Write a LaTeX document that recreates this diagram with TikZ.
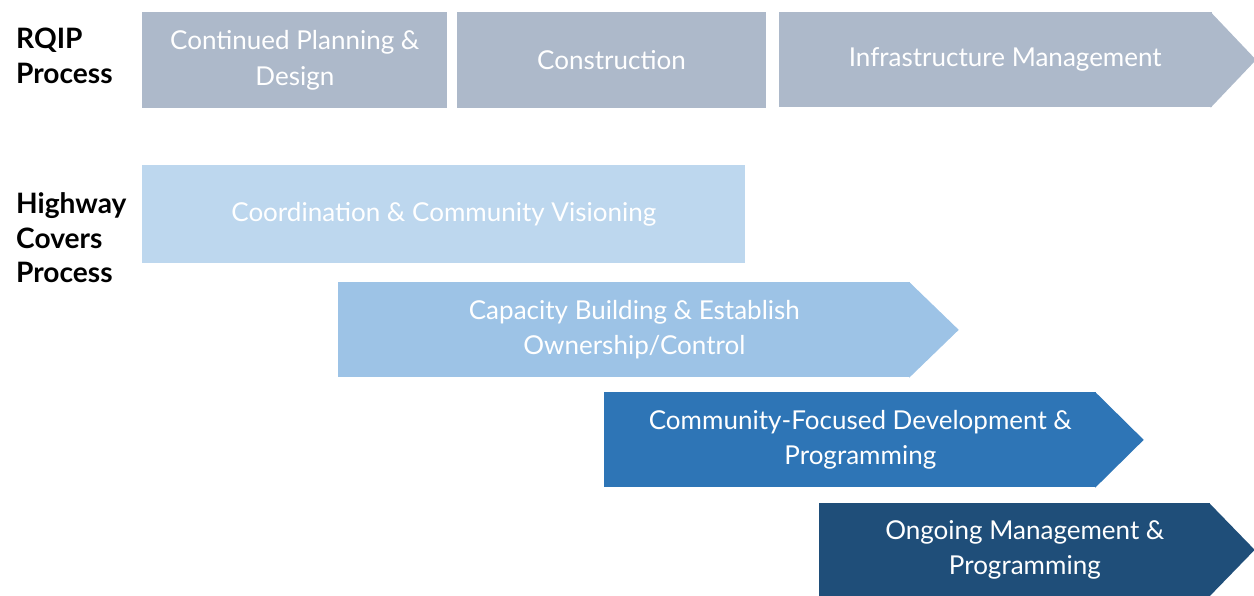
\documentclass[tikz,border=0pt]{standalone}
\usepackage{fontspec}
\setmainfont{Lato}
\usetikzlibrary{positioning, calc}
\definecolor{rqipGray}{RGB}{173, 185, 202}
\definecolor{coverLight}{RGB}{189, 215, 238}
\definecolor{coverMid}{RGB}{157, 195, 230}
\definecolor{coverBlue}{RGB}{46, 117, 182}
\definecolor{coverDark}{RGB}{31, 78, 121}
\begin{document}
\begin{tikzpicture}[
        stage/.style={rectangle, anchor=north west, inner sep=0pt, minimum height=1.92cm, align=center, text=white, font=\fontsize{14.8}{20}\selectfont},
        rowlabel/.style={anchor=west, align=left, font=\fontsize{16}{19.6}\selectfont\bfseries}
    ]
        \useasboundingbox (0,0) rectangle (25.08,-11.92);

        % RQIP row
        \node[rowlabel] (rqip) at (0.20,-1.12) {RQIP\\Process};
        \node[stage, fill=rqipGray, minimum width=6.10cm] (plan) at (2.84,-0.24) {Continued Planning \&\\Design};
        \node[stage, fill=rqipGray, minimum width=6.18cm, right=0.18cm of plan.north east, anchor=north west] (build) {Construction};
        \node[stage, fill=rqipGray, minimum width=8.66cm, minimum height=1.90cm, right=0.24cm of build.north east, anchor=north west] (infra) {\hspace*{0.4cm}Infrastructure Management};
        \fill[rqipGray] ($(infra.north east)+(-0.03,0)$) -- ($(infra.east)+(0.88,0)$) -- ($(infra.south east)+(-0.03,0)$) -- cycle;

        % Highway covers row
        \node[rowlabel] (covers) at (0.20,-4.76) {Highway\\Covers\\Process};
        \node[stage, fill=coverLight, minimum width=12.06cm, minimum height=1.96cm] (vision) at (2.84,-3.30) {Coordination \& Community Visioning};
        \node[stage, fill=coverMid, minimum width=11.44cm, minimum height=1.90cm] (capacity) at (6.76,-5.64) {\hspace*{0.4cm}Capacity Building \& Establish\\\hspace*{0.4cm}Ownership/Control};
        \fill[coverMid] ($(capacity.north east)+(-0.03,0)$) -- ($(capacity.east)+(0.96,0)$) -- ($(capacity.south east)+(-0.03,0)$) -- cycle;
        \node[stage, fill=coverBlue, minimum width=9.84cm, minimum height=1.90cm] (develop) at (12.08,-7.84) {\hspace*{0.4cm}Community-Focused Development \&\\\hspace*{0.4cm}Programming};
        \fill[coverBlue] ($(develop.north east)+(-0.03,0)$) -- ($(develop.east)+(0.94,0)$) -- ($(develop.south east)+(-0.03,0)$) -- cycle;
        \node[stage, fill=coverDark, minimum width=7.82cm, minimum height=1.86cm] (manage) at (16.38,-10.06) {\hspace*{0.4cm}Ongoing Management \&\\\hspace*{0.4cm}Programming};
        \fill[coverDark] ($(manage.north east)+(-0.03,0)$) -- ($(manage.east)+(0.88,0)$) -- ($(manage.south east)+(-0.03,0)$) -- cycle;
    \end{tikzpicture}
\end{document}
